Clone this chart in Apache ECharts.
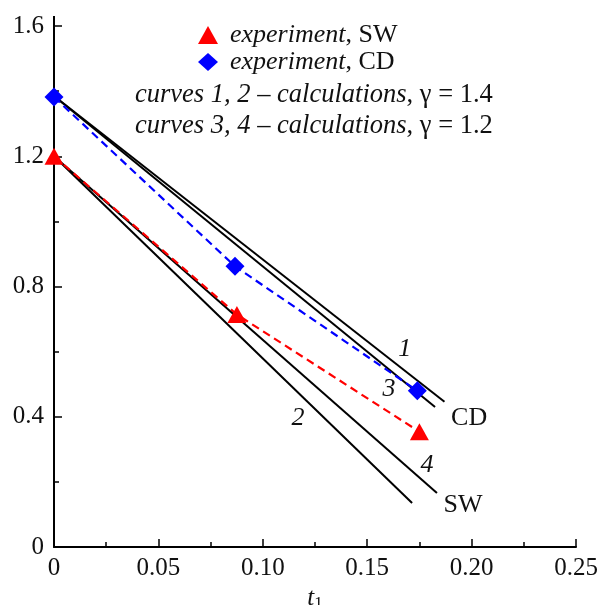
<!DOCTYPE html>
<html><head><meta charset="utf-8">
<script src="https://cdn.jsdelivr.net/npm/echarts@6/dist/echarts.min.js"></script>
<style>html,body{margin:0;padding:0;background:#fff}#c{width:600px;height:605px}</style>
</head><body><div id="c"></div>
<script>
// Experimental data
const swX = [0, 0.0876, 0.175];
const swY = [1.20, 0.714, 0.354];
const cdX = [0, 0.0867, 0.174];
const cdY = [1.382, 0.862, 0.48];
// Calculated curves (straight lines): [x0, y0, x1, y1]
const curve1 = [[0, 1.385], [0.187, 0.446]];
const curve2 = [[0, 1.200], [0.1715, 0.135]];
const curve3 = [[0, 1.385], [0.1825, 0.430]];
const curve4 = [[0, 1.200], [0.1834, 0.166]];
// Annotation labels in data coords
const curveLabels = [['1', 0.168, 0.609], ['3', 0.1604, 0.486], ['2', 0.1169, 0.397], ['4', 0.1786, 0.252]];
const regionLabels = [['CD', 0.1988, 0.397], ['SW', 0.1959, 0.129]];
const xTicks = ['0', '0.05', '0.10', '0.15', '0.20', '0.25'];
const yTicks = ['0', '0.4', '0.8', '1.2', '1.6'];

const F = 'Liberation Serif';
const FS = 25;
const chart = echarts.init(document.getElementById('c'));
const zip = (xs, ys) => xs.map((x, i) => [x, ys[i]]);
const lineSeries = (d) => ({type: 'line', data: d, symbol: 'none', silent: true,
  lineStyle: {color: '#000', width: 2}, z: 2});
const richT = {i: {fontFamily: F, fontStyle: 'italic', fontSize: 26.5, fill: '#111'},
               r: {fontFamily: F, fontSize: 26.5, fill: '#111'}};
chart.setOption({
  animation: false,
  grid: {left: 54, right: 24, top: 26, bottom: 58, containLabel: false, outerBoundsMode: 'none'},
  legend: {
    orient: 'vertical', left: 193, top: 17, itemGap: 1, itemWidth: 20, itemHeight: 18,
    data: [{name: 'expSW', icon: 'triangle'}, {name: 'expCD', icon: 'diamond'}],
    formatter: n => n === 'expSW' ? '{i|experiment}{r|, SW}' : '{i|experiment}{r|, CD}',
    textStyle: {rich: {
      i: {fontFamily: F, fontStyle: 'italic', fontSize: 26, color: '#111', padding: [0, 0, 0, 7]},
      r: {fontFamily: F, fontSize: 26, color: '#111'}
    }}
  },
  graphic: [
    {type: 'line', shape: {x1: 54, y1: 16, x2: 54, y2: 27}, style: {stroke: '#000', lineWidth: 2}},
    {type: 'text', left: 135, top: 82, style: {text: '{i|curves 1, 2 – calculations}{r|, γ = 1.4}', rich: richT}},
    {type: 'text', left: 135, top: 113, style: {text: '{i|curves 3, 4 – calculations}{r|, γ = 1.2}', rich: richT}}
  ],
  xAxis: {
    type: 'value', min: 0, max: 0.25, interval: 0.05,
    axisLine: {lineStyle: {color: '#000', width: 2}},
    axisTick: {inside: true, length: 8, lineStyle: {color: '#000', width: 1.5}},
    minorTick: {show: true, splitNumber: 2, length: 5, lineStyle: {color: '#000', width: 1.5}},
    splitLine: {show: false},
    axisLabel: {fontFamily: F, fontSize: FS, color: '#111', margin: 9,
      formatter: (v) => xTicks[Math.round(v / 0.05)]},
    name: '{t|t}{s|1}', nameLocation: 'middle', nameGap: 33,
    nameTextStyle: {rich: {t: {fontFamily: F, fontStyle: 'italic', fontSize: 25, color: '#111'},
      s: {fontFamily: F, fontSize: 17, color: '#111', verticalAlign: 'bottom', padding: [10, 0, 0, 0]}}}
  },
  yAxis: {
    type: 'value', min: 0, max: 1.6, interval: 0.4,
    axisLine: {lineStyle: {color: '#000', width: 2}},
    axisTick: {inside: true, length: 8, lineStyle: {color: '#000', width: 1.5}},
    minorTick: {show: true, splitNumber: 2, length: 5, lineStyle: {color: '#000', width: 1.5}},
    splitLine: {show: false},
    axisLabel: {fontFamily: F, fontSize: FS, color: '#111', margin: 10,
      formatter: (v) => yTicks[Math.round(v / 0.4)]}
  },
  series: [
    lineSeries(curve1), lineSeries(curve2), lineSeries(curve3), lineSeries(curve4),
    {name: 'expSW', type: 'line', data: zip(swX, swY), symbol: 'triangle', symbolSize: [19, 17],
      lineStyle: {color: '#f00', width: 2.2, type: [8, 5]}, itemStyle: {color: '#f00'}, z: 3},
    {name: 'expCD', type: 'line', data: zip(cdX, cdY), symbol: 'diamond', symbolSize: [19, 19],
      lineStyle: {color: '#00f', width: 2.2, type: [8, 5]}, itemStyle: {color: '#00f'}, z: 3},
    {type: 'scatter', symbolSize: 0, silent: true, z: 4, itemStyle: {opacity: 1},
      data: curveLabels.map(l => ({value: [l[1], l[2]], name: l[0]})),
      label: {show: true, position: 'inside', formatter: p => p.name,
        fontFamily: F, fontStyle: 'italic', fontSize: 26, color: '#111'}},
    {type: 'scatter', symbolSize: 0, silent: true, z: 4, itemStyle: {opacity: 1},
      data: regionLabels.map(l => ({value: [l[1], l[2]], name: l[0]})),
      label: {show: true, position: 'inside', formatter: p => p.name,
        fontFamily: F, fontSize: 26, color: '#111'}}
  ]
});
</script></body></html>
